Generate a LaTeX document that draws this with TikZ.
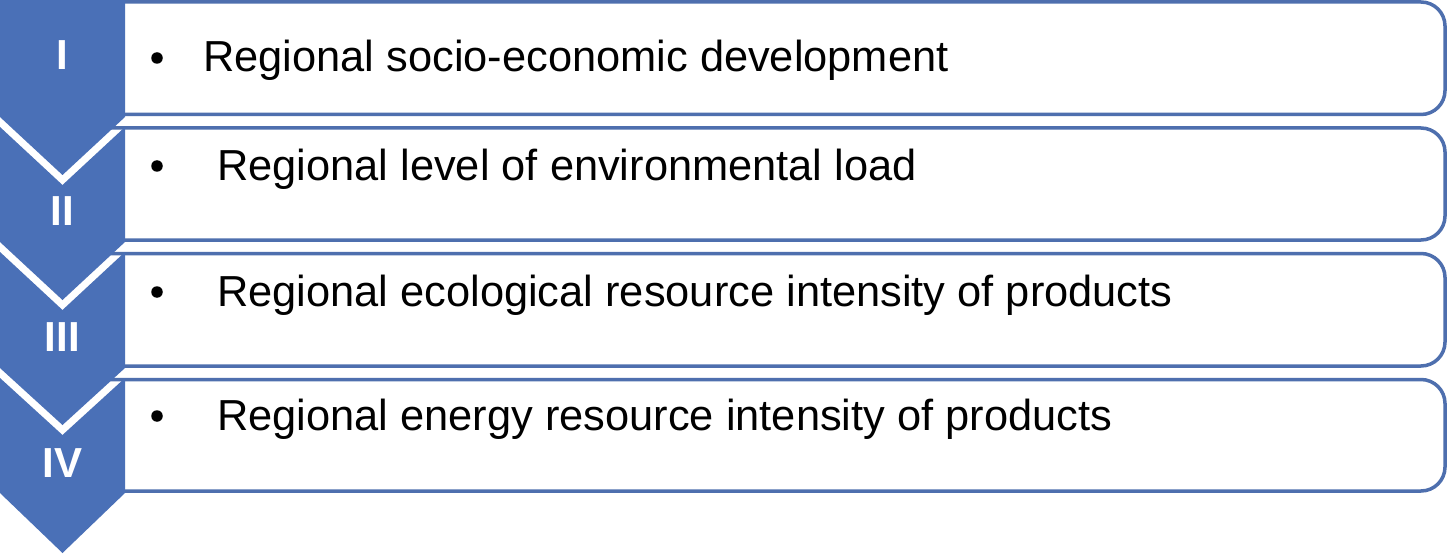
\documentclass[tikz,border=0pt]{standalone}
\usepackage{fontspec}
\setmainfont{Liberation Sans}
\definecolor{chevblue}{RGB}{74,112,183}
\definecolor{boxblue}{RGB}{78,111,174}
\begin{document}
\begin{tikzpicture}[x=1pt,y=-1pt,
  rowbox/.style={draw=boxblue,line width=3.5pt,fill=white,rounded corners=24pt},
  chev/.style={fill=chevblue,draw=none},
  numeral/.style={text=white,font=\fontsize{42}{42}\selectfont\bfseries,inner sep=0pt},
  bullettext/.style={anchor=base west,font=\fontsize{43.4}{43.4}\selectfont,inner sep=0pt},
  bulletdot/.style={circle,fill=black,inner sep=0pt,minimum size=11.5pt}]
\useasboundingbox (0,0) rectangle (1448,556);
\fill[white] (0,0) rectangle (1448,556);
% boxes
\draw[rowbox] (90,2) -- (1445,2) -- (1445,114.5) -- (90,114.5);
\draw[rowbox] (90,128) -- (1445,128) -- (1445,240) -- (90,240);
\draw[rowbox] (90,253.5) -- (1445,253.5) -- (1445,366) -- (90,366);
\draw[rowbox] (90,379.5) -- (1445,379.5) -- (1445,491) -- (90,491);
% chevrons
\fill[chev] (0,0) -- (125,0) -- (125,117) -- (62.5,175) -- (0,117) -- cycle;
\fill[chev] (0,127) -- (62.5,185) -- (125,127) -- (125,242) -- (62.5,300) -- (0,242) -- cycle;
\fill[chev] (0,252) -- (62.5,310) -- (125,252) -- (125,368) -- (62.5,425) -- (0,368) -- cycle;
\fill[chev] (0,378) -- (62.5,435) -- (125,378) -- (125,493) -- (62.5,553) -- (0,493) -- cycle;
% numerals
\node[numeral] (n1) at (62.5,55) {I};
\node[numeral] (n2) at (62.5,211) {II};
\node[numeral] (n3) at (62.5,337) {III};
\node[numeral] (n4) at (62.5,463) {IV};
% bullets
\node[bulletdot] (b1) at (157,58) {};
\node[bulletdot] (b2) at (157,166) {};
\node[bulletdot] (b3) at (157,292) {};
\node[bulletdot] (b4) at (157,416) {};
% texts
\node[bullettext] (t1) at (203,72) {Regional socio-economic development};
\node[bullettext] (t2) at (217,181) {Regional level of environmental load};
\node[bullettext] (t3) at (217,306) {Regional ecological resource intensity of products};
\node[bullettext] (t4) at (217,430) {Regional energy resource intensity of products};
\end{tikzpicture}
\end{document}
